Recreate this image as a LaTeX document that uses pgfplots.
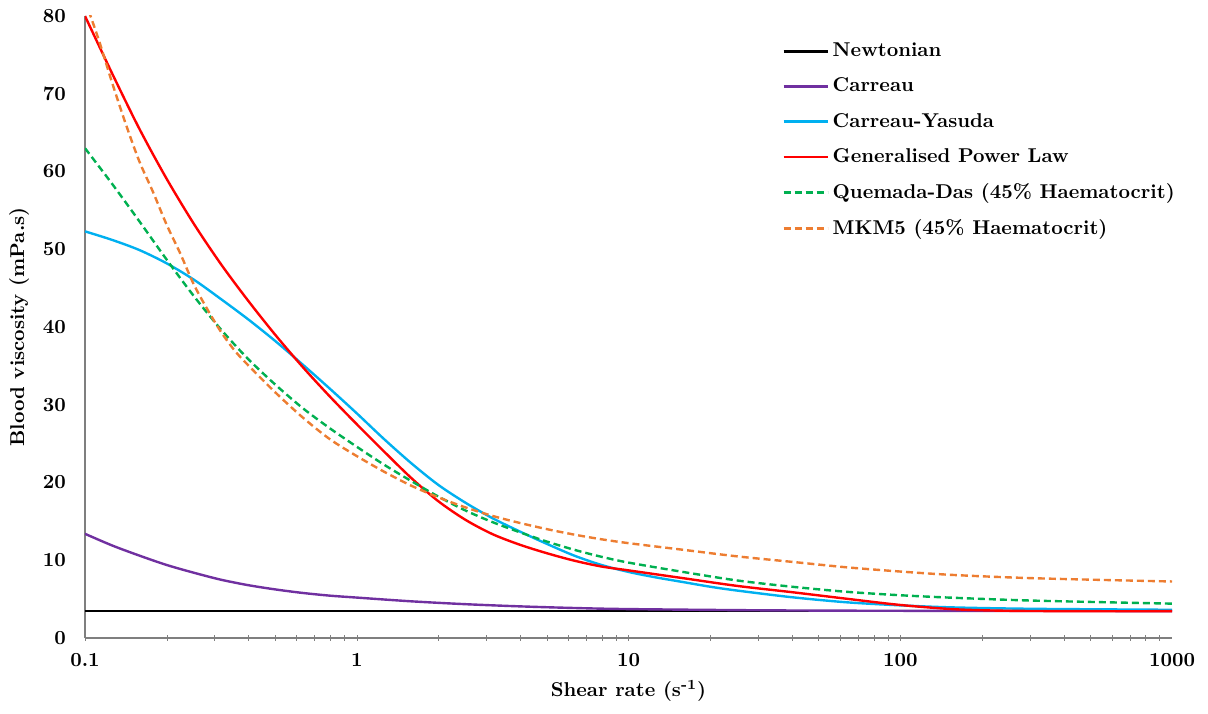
\documentclass[border=0pt]{standalone}
\usepackage{pgfplots}
\pgfplotsset{compat=1.18}
\usetikzlibrary{calc}
\definecolor{cpurple}{HTML}{7030A0}
\definecolor{cblue}{HTML}{00B0F0}
\definecolor{cred}{HTML}{FF0000}
\definecolor{cgreen}{HTML}{00B050}
\definecolor{corange}{HTML}{ED7D31}
\definecolor{caxis}{HTML}{7F7F7F}
\begin{document}
\begin{tikzpicture}
\begin{axis}[
  xmode=log, scale only axis, width=543.5pt, height=311pt,
  xmin=0.1, xmax=1000, ymin=0, ymax=80,
  axis x line=bottom, axis y line=left,
  axis line style={-, draw=caxis, line width=0.8pt},
  xtick={0.1,1,10,100,1000}, xticklabels={0.1,1,10,100,1000},
  ytick={0,10,20,30,40,50,60,70,80}, yticklabels={0,10,20,30,40,50,60,70,80},
  major tick length=0pt, minor tick num=0,
  tick label style={font=\bfseries},
  xticklabel style={yshift=-4pt},
  yticklabel style={xshift=-6pt},
  xlabel={Shear rate (s\textsuperscript{-1})},
  ylabel={Blood viscosity (mPa.s)},
  label style={font=\bfseries},
  legend style={draw=none, fill=none, at={(0.6356,0.970)}, anchor=north west,
    font=\bfseries, row sep=5.1pt},
  legend cell align=left,
  legend image code/.code={\draw[#1] (0pt,0pt) -- (22pt,0pt);},
  every axis plot/.append style={line width=1.2pt},
]
\coordinate (sw) at (rel axis cs:0,0);
\coordinate (ne) at (rel axis cs:1,1);
\addplot[black] coordinates {(0.1,3.45) (1000,3.45)};
\addlegendentry{Newtonian}
\addplot[cpurple, smooth] coordinates {
(0.1,13.4) (0.1259,11.9) (0.1585,10.6) (0.1995,9.4) (0.2512,8.4) (0.3162,7.5)
(0.3981,6.8) (0.5012,6.25) (0.631,5.8) (0.7943,5.45) (1,5.2) (1.585,4.72)
(2.512,4.35) (3.981,4.07) (6.31,3.86) (10,3.72) (31.62,3.56) (100,3.5) (1000,3.46)};
\addlegendentry{Carreau}
\addplot[cblue, smooth] coordinates {
(0.1,52.3) (0.1259,51.2) (0.1585,49.9) (0.1995,48.2) (0.2512,46.1) (0.3162,43.6)
(0.3981,41.0) (0.5012,38.2) (0.631,35.2) (0.7943,32.1) (1,28.9) (1.259,25.6)
(1.585,22.5) (1.995,19.7) (2.512,17.4) (3.162,15.4) (3.981,13.7) (5.012,12.1)
(6.31,10.6) (7.943,9.4) (10,8.5) (12.59,7.8) (15.85,7.2) (19.95,6.6) (25.12,6.1)
(39.81,5.25) (63.1,4.6) (100,4.2) (158.5,3.93) (316.2,3.75) (1000,3.63)};
\addlegendentry{Carreau-Yasuda}
\addplot[cred, smooth] coordinates {
(0.1,80) (0.1259,72.6) (0.1585,65.5) (0.1995,59.1) (0.2512,53.3) (0.3162,48.1)
(0.3981,43.4) (0.5012,39.0) (0.631,34.9) (0.7943,31.1) (1,27.5) (1.259,24.0)
(1.585,20.6) (1.995,17.6) (2.512,15.2) (3.162,13.35) (3.981,12.0) (5.012,10.9)
(6.31,9.95) (7.943,9.2) (10,8.7) (12.59,8.2) (15.85,7.7) (25.12,6.7) (39.81,5.9)
(63.1,5.06) (100,4.25) (158.5,3.7) (251.2,3.5) (501.2,3.45) (1000,3.45)};
\addlegendentry{Generalised Power Law}
\addplot[cgreen, smooth, dash pattern=on 3.5pt off 2pt] coordinates {
(0.1,63.0) (0.1259,58.4) (0.1585,53.6) (0.1995,48.7) (0.2512,44.0) (0.3162,39.7)
(0.3981,35.9) (0.5012,32.6) (0.631,29.6) (0.7943,27.0) (1,24.6) (1.259,22.3)
(1.585,20.2) (1.995,18.2) (2.512,16.4) (3.162,14.9) (3.981,13.6) (5.012,12.4)
(6.31,11.35) (7.943,10.45) (10,9.7) (15.85,8.5) (25.12,7.4) (39.81,6.6)
(63.1,5.95) (100,5.5) (158.5,5.17) (316.2,4.8) (1000,4.42)};
\addlegendentry{Quemada-Das (45\% Haematocrit)}
\addplot[corange, smooth, dash pattern=on 3.5pt off 2pt] coordinates {
(0.1,82.0) (0.1122,77.0) (0.1259,71.4) (0.1413,66.1) (0.1585,61.3) (0.1778,57.4)
(0.1995,53.2) (0.2239,49.5) (0.2512,45.5) (0.2818,42.3) (0.3162,39.4) (0.3548,37.0)
(0.3981,35.1) (0.5012,31.6) (0.631,28.4) (0.7943,25.6) (1,23.4) (1.259,21.4)
(1.585,19.6) (1.995,18.1) (2.512,16.8) (3.162,15.7) (3.981,14.8) (5.012,14.0)
(6.31,13.3) (7.943,12.7) (10,12.2) (15.85,11.35) (25.12,10.5) (39.81,9.8)
(63.1,9.1) (100,8.55) (158.5,8.1) (316.2,7.68) (1000,7.27)};
\addlegendentry{MKM5 (45\% Haematocrit)}
\end{axis}
\pgfresetboundingbox
\path ($(sw)+(-42.5pt,-37.5pt)$) rectangle ($(ne)+(18pt,8pt)$);
\end{tikzpicture}
\end{document}
